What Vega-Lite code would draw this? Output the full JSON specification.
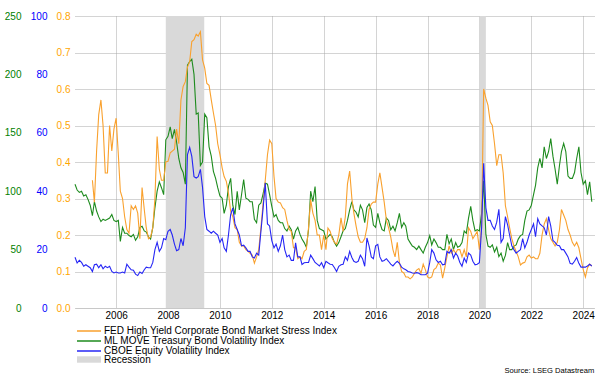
{
  "$schema": "https://vega.github.io/schema/vega-lite/v6.json",
  "width": 519,
  "height": 292,
  "autosize": {"type": "none"},
  "padding": {"left": 75, "top": 16, "right": 15, "bottom": 69},
  "background": "white",
  "config": {
    "font": "Liberation Sans",
    "view": {"stroke": null},
    "axis": {"labelFont": "Liberation Sans", "labelFontSize": 10, "titleFontSize": 10},
    "legend": {"labelFont": "Liberation Sans", "labelFontSize": 10, "labelColor": "#000", "padding": 0, "labelLimit": 500}
  },
  "title": {"text": "Source: LSEG Datastream", "orient": "bottom", "anchor": "end", "fontSize": 7.6, "fontWeight": "normal", "color": "#000", "offset": 2, "font": "Liberation Sans"},
  "datasets": {
    "rec": [
      {"start": "2007-12-01", "end": "2009-05-25", "label": "Recession"},
      {"start": "2020-01-01", "end": "2020-04-01", "label": "Recession"}
    ],
    "series": [
      {"date": "2004-06-01", "move": 106, "vix": 17.4},
      {"date": "2004-07-01", "move": 101, "vix": 15.4},
      {"date": "2004-08-01", "move": 99, "vix": 16.3},
      {"date": "2004-09-01", "move": 100, "vix": 15.6},
      {"date": "2004-10-01", "move": 96, "vix": 14.3},
      {"date": "2004-11-01", "move": 97, "vix": 14.8},
      {"date": "2004-12-01", "move": 93, "vix": 14.3},
      {"date": "2005-01-01", "move": 88, "vix": 13.8},
      {"date": "2005-02-01", "move": 79, "vix": 12.5, "stress": 0.35},
      {"date": "2005-03-01", "move": 91, "vix": 14.8, "stress": 0.29},
      {"date": "2005-04-01", "move": 83, "vix": 15, "stress": 0.43},
      {"date": "2005-05-01", "move": 78, "vix": 13.8, "stress": 0.53},
      {"date": "2005-06-01", "move": 74, "vix": 14.8, "stress": 0.57},
      {"date": "2005-07-01", "move": 76, "vix": 13.4, "stress": 0.5},
      {"date": "2005-08-01", "move": 75, "vix": 14.3, "stress": 0.37},
      {"date": "2005-09-01", "move": 76, "vix": 13.8, "stress": 0.37},
      {"date": "2005-10-01", "move": 77, "vix": 14.3, "stress": 0.5},
      {"date": "2005-11-01", "move": 80, "vix": 12.5, "stress": 0.43},
      {"date": "2005-12-01", "move": 75, "vix": 12, "stress": 0.49},
      {"date": "2006-01-01", "move": 74, "vix": 12.3, "stress": 0.52},
      {"date": "2006-02-01", "move": 75, "vix": 12, "stress": 0.42},
      {"date": "2006-03-01", "move": 57, "vix": 12, "stress": 0.32},
      {"date": "2006-04-01", "move": 69, "vix": 12.3, "stress": 0.3},
      {"date": "2006-05-01", "move": 64, "vix": 12, "stress": 0.25},
      {"date": "2006-06-01", "move": 64, "vix": 15, "stress": 0.215},
      {"date": "2006-07-01", "move": 62, "vix": 14, "stress": 0.205},
      {"date": "2006-08-01", "move": 61, "vix": 13.1, "stress": 0.28},
      {"date": "2006-09-01", "move": 63, "vix": 12.9, "stress": 0.27},
      {"date": "2006-10-01", "move": 58, "vix": 11.6, "stress": 0.28},
      {"date": "2006-11-01", "move": 61, "vix": 11.1, "stress": 0.26},
      {"date": "2006-12-01", "move": 69, "vix": 12.3, "stress": 0.19},
      {"date": "2007-01-01", "move": 70, "vix": 11.8, "stress": 0.33},
      {"date": "2007-02-01", "move": 66, "vix": 13.1, "stress": 0.27},
      {"date": "2007-03-01", "move": 65, "vix": 14, "stress": 0.22},
      {"date": "2007-04-01", "move": 61, "vix": 13.8, "stress": 0.19},
      {"date": "2007-05-01", "move": 59, "vix": 13.8, "stress": 0.195},
      {"date": "2007-06-01", "move": 69, "vix": 15.6, "stress": 0.22},
      {"date": "2007-07-01", "move": 86, "vix": 20, "stress": 0.3},
      {"date": "2007-08-01", "move": 100, "vix": 22.5, "stress": 0.47},
      {"date": "2007-09-01", "move": 108, "vix": 19.4, "stress": 0.38},
      {"date": "2007-10-01", "move": 103, "vix": 20.6, "stress": 0.35},
      {"date": "2007-11-01", "move": 97, "vix": 23.8, "stress": 0.35},
      {"date": "2007-12-01", "move": 144, "vix": 23.4, "stress": 0.4},
      {"date": "2008-01-01", "move": 147, "vix": 26.3, "stress": 0.402},
      {"date": "2008-02-01", "move": 155, "vix": 26.9, "stress": 0.425},
      {"date": "2008-03-01", "move": 145, "vix": 25, "stress": 0.43},
      {"date": "2008-04-01", "move": 153, "vix": 21.9, "stress": 0.435},
      {"date": "2008-05-01", "move": 142, "vix": 19.6, "stress": 0.49},
      {"date": "2008-06-01", "move": 128, "vix": 20, "stress": 0.45},
      {"date": "2008-07-01", "move": 120, "vix": 23.8, "stress": 0.57},
      {"date": "2008-08-01", "move": 116, "vix": 21.3, "stress": 0.607},
      {"date": "2008-09-01", "move": 106, "vix": 27.5, "stress": 0.62},
      {"date": "2008-10-01", "move": 208, "vix": 52.5, "stress": 0.66},
      {"date": "2008-11-01", "move": 211, "vix": 55, "stress": 0.675},
      {"date": "2008-12-01", "move": 213, "vix": 51.9, "stress": 0.73},
      {"date": "2009-01-01", "move": 200, "vix": 45, "stress": 0.735},
      {"date": "2009-02-01", "move": 166, "vix": 44.5, "stress": 0.75},
      {"date": "2009-03-01", "move": 167, "vix": 45, "stress": 0.745},
      {"date": "2009-04-01", "move": 122, "vix": 47.5, "stress": 0.757},
      {"date": "2009-05-01", "move": 125, "vix": 41.3, "stress": 0.68},
      {"date": "2009-06-01", "move": 166, "vix": 31.3, "stress": 0.657},
      {"date": "2009-07-01", "move": 163, "vix": 26.9, "stress": 0.615},
      {"date": "2009-08-01", "move": 138, "vix": 26.3, "stress": 0.61},
      {"date": "2009-09-01", "move": 130, "vix": 25.6, "stress": 0.57},
      {"date": "2009-10-01", "move": 117, "vix": 26.3, "stress": 0.535},
      {"date": "2009-11-01", "move": 111, "vix": 25.6, "stress": 0.5},
      {"date": "2009-12-01", "move": 103, "vix": 25, "stress": 0.45},
      {"date": "2010-01-01", "move": 96, "vix": 22.5, "stress": 0.42},
      {"date": "2010-02-01", "move": 94, "vix": 23.8, "stress": 0.384},
      {"date": "2010-03-01", "move": 81, "vix": 20.6, "stress": 0.36},
      {"date": "2010-04-01", "move": 88, "vix": 19.4, "stress": 0.347},
      {"date": "2010-05-01", "move": 104, "vix": 25, "stress": 0.315},
      {"date": "2010-06-01", "move": 111, "vix": 32, "stress": 0.265},
      {"date": "2010-07-01", "move": 88, "vix": 34.3, "stress": 0.25},
      {"date": "2010-08-01", "move": 80, "vix": 28.8, "stress": 0.22},
      {"date": "2010-09-01", "move": 100, "vix": 26.9, "stress": 0.215},
      {"date": "2010-10-01", "move": 84, "vix": 25, "stress": 0.18},
      {"date": "2010-11-01", "move": 97, "vix": 21.3, "stress": 0.17},
      {"date": "2010-12-01", "move": 110, "vix": 21.5, "stress": 0.17},
      {"date": "2011-01-01", "move": 94, "vix": 20.6, "stress": 0.16},
      {"date": "2011-02-01", "move": 93, "vix": 19.4, "stress": 0.155},
      {"date": "2011-03-01", "move": 91, "vix": 19.4, "stress": 0.15},
      {"date": "2011-04-01", "move": 91, "vix": 17.5, "stress": 0.145},
      {"date": "2011-05-01", "move": 76, "vix": 17.1, "stress": 0.123},
      {"date": "2011-06-01", "move": 73, "vix": 18.8, "stress": 0.14},
      {"date": "2011-07-01", "move": 88, "vix": 18.1, "stress": 0.16},
      {"date": "2011-08-01", "move": 90, "vix": 26.3, "stress": 0.22},
      {"date": "2011-09-01", "move": 98, "vix": 34.3, "stress": 0.288},
      {"date": "2011-10-01", "move": 107, "vix": 42.8, "stress": 0.35},
      {"date": "2011-11-01", "move": 106, "vix": 28.8, "stress": 0.42},
      {"date": "2011-12-01", "move": 97, "vix": 28.1, "stress": 0.46},
      {"date": "2012-01-01", "move": 87, "vix": 23.1, "stress": 0.45},
      {"date": "2012-02-01", "move": 78, "vix": 20.6, "stress": 0.36},
      {"date": "2012-03-01", "move": 80, "vix": 21.9, "stress": 0.3},
      {"date": "2012-04-01", "move": 75, "vix": 19.4, "stress": 0.29},
      {"date": "2012-05-01", "move": 73, "vix": 21.3, "stress": 0.288},
      {"date": "2012-06-01", "move": 73, "vix": 25, "stress": 0.275},
      {"date": "2012-07-01", "move": 68, "vix": 20, "stress": 0.27},
      {"date": "2012-08-01", "move": 66, "vix": 17.5, "stress": 0.24},
      {"date": "2012-09-01", "move": 70, "vix": 18.1, "stress": 0.215},
      {"date": "2012-10-01", "move": 67, "vix": 16.3, "stress": 0.21},
      {"date": "2012-11-01", "move": 59, "vix": 16.3, "stress": 0.165},
      {"date": "2012-12-01", "move": 66, "vix": 22.3, "stress": 0.165},
      {"date": "2013-01-01", "move": 69, "vix": 17.5, "stress": 0.135},
      {"date": "2013-02-01", "move": 63, "vix": 17.5, "stress": 0.14},
      {"date": "2013-03-01", "move": 59, "vix": 14.9, "stress": 0.135},
      {"date": "2013-04-01", "move": 56, "vix": 15.5, "stress": 0.155},
      {"date": "2013-05-01", "move": 52, "vix": 15.6, "stress": 0.16},
      {"date": "2013-06-01", "move": 67, "vix": 15.6, "stress": 0.22},
      {"date": "2013-07-01", "move": 100, "vix": 18.1, "stress": 0.297},
      {"date": "2013-08-01", "move": 91, "vix": 16.9, "stress": 0.26},
      {"date": "2013-09-01", "move": 104, "vix": 15.6, "stress": 0.24},
      {"date": "2013-10-01", "move": 75, "vix": 15, "stress": 0.2},
      {"date": "2013-11-01", "move": 68, "vix": 14.4, "stress": 0.2},
      {"date": "2013-12-01", "move": 67, "vix": 15.5, "stress": 0.16},
      {"date": "2014-01-01", "move": 66, "vix": 13.8, "stress": 0.2},
      {"date": "2014-02-01", "move": 59, "vix": 16, "stress": 0.16},
      {"date": "2014-03-01", "move": 61, "vix": 15.5, "stress": 0.219},
      {"date": "2014-04-01", "move": 63, "vix": 15, "stress": 0.21},
      {"date": "2014-05-01", "move": 61, "vix": 14.9, "stress": 0.19},
      {"date": "2014-06-01", "move": 56, "vix": 13.8, "stress": 0.18},
      {"date": "2014-07-01", "move": 53, "vix": 12.5, "stress": 0.175},
      {"date": "2014-08-01", "move": 56, "vix": 14.3, "stress": 0.2},
      {"date": "2014-09-01", "move": 61, "vix": 14.8, "stress": 0.247},
      {"date": "2014-10-01", "move": 66, "vix": 15, "stress": 0.21},
      {"date": "2014-11-01", "move": 68, "vix": 17.5, "stress": 0.25},
      {"date": "2014-12-01", "move": 75, "vix": 16.3, "stress": 0.34},
      {"date": "2015-01-01", "move": 84, "vix": 19.4, "stress": 0.375},
      {"date": "2015-02-01", "move": 91, "vix": 17.3, "stress": 0.3},
      {"date": "2015-03-01", "move": 84, "vix": 16, "stress": 0.26},
      {"date": "2015-04-01", "move": 82, "vix": 15.6, "stress": 0.225},
      {"date": "2015-05-01", "move": 78, "vix": 16, "stress": 0.195},
      {"date": "2015-06-01", "move": 88, "vix": 18.1, "stress": 0.18},
      {"date": "2015-07-01", "move": 84, "vix": 16.9, "stress": 0.18},
      {"date": "2015-08-01", "move": 73, "vix": 14.3, "stress": 0.19},
      {"date": "2015-09-01", "move": 86, "vix": 24, "stress": 0.22},
      {"date": "2015-10-01", "move": 89, "vix": 21.3, "stress": 0.27},
      {"date": "2015-11-01", "move": 84, "vix": 17.5, "stress": 0.285},
      {"date": "2015-12-01", "move": 71, "vix": 16.9, "stress": 0.29},
      {"date": "2016-01-01", "move": 69, "vix": 21.3, "stress": 0.29},
      {"date": "2016-02-01", "move": 81, "vix": 21.8, "stress": 0.34},
      {"date": "2016-03-01", "move": 73, "vix": 17.5, "stress": 0.37},
      {"date": "2016-04-01", "move": 67, "vix": 16, "stress": 0.33},
      {"date": "2016-05-01", "move": 66, "vix": 16.3, "stress": 0.29},
      {"date": "2016-06-01", "move": 77, "vix": 16.9, "stress": 0.24},
      {"date": "2016-07-01", "move": 75, "vix": 16, "stress": 0.22},
      {"date": "2016-08-01", "move": 67, "vix": 15, "stress": 0.195},
      {"date": "2016-09-01", "move": 70, "vix": 14.4, "stress": 0.16},
      {"date": "2016-10-01", "move": 66, "vix": 15.3, "stress": 0.14},
      {"date": "2016-11-01", "move": 73, "vix": 16, "stress": 0.18},
      {"date": "2016-12-01", "move": 81, "vix": 15.3, "stress": 0.125},
      {"date": "2017-01-01", "move": 69, "vix": 14, "stress": 0.1},
      {"date": "2017-02-01", "move": 73, "vix": 13.4, "stress": 0.096},
      {"date": "2017-03-01", "move": 70, "vix": 13.1, "stress": 0.085},
      {"date": "2017-04-01", "move": 59, "vix": 12.5, "stress": 0.085},
      {"date": "2017-05-01", "move": 56, "vix": 12.3, "stress": 0.08},
      {"date": "2017-06-01", "move": 53, "vix": 12, "stress": 0.085},
      {"date": "2017-07-01", "move": 52, "vix": 11.9, "stress": 0.095},
      {"date": "2017-08-01", "move": 50, "vix": 12.1, "stress": 0.104},
      {"date": "2017-09-01", "move": 53, "vix": 11.9, "stress": 0.108},
      {"date": "2017-10-01", "move": 50, "vix": 11.4, "stress": 0.095},
      {"date": "2017-11-01", "move": 47, "vix": 11.4, "stress": 0.12},
      {"date": "2017-12-01", "move": 52, "vix": 11.4, "stress": 0.105},
      {"date": "2018-01-01", "move": 56, "vix": 11.9, "stress": 0.085},
      {"date": "2018-02-01", "move": 62, "vix": 15.6, "stress": 0.082},
      {"date": "2018-03-01", "move": 54, "vix": 20, "stress": 0.085},
      {"date": "2018-04-01", "move": 59, "vix": 18.8, "stress": 0.105},
      {"date": "2018-05-01", "move": 56, "vix": 16.5, "stress": 0.11},
      {"date": "2018-06-01", "move": 52, "vix": 15.6, "stress": 0.123},
      {"date": "2018-07-01", "move": 52, "vix": 16, "stress": 0.118},
      {"date": "2018-08-01", "move": 50, "vix": 14.8, "stress": 0.082},
      {"date": "2018-09-01", "move": 50, "vix": 15, "stress": 0.11},
      {"date": "2018-10-01", "move": 63, "vix": 19.4, "stress": 0.14},
      {"date": "2018-11-01", "move": 55, "vix": 18.8, "stress": 0.17},
      {"date": "2018-12-01", "move": 59, "vix": 20, "stress": 0.15},
      {"date": "2019-01-01", "move": 50, "vix": 17.1, "stress": 0.16},
      {"date": "2019-02-01", "move": 56, "vix": 18.8, "stress": 0.15},
      {"date": "2019-03-01", "move": 52, "vix": 17.8, "stress": 0.16},
      {"date": "2019-04-01", "move": 53, "vix": 15.6, "stress": 0.16},
      {"date": "2019-05-01", "move": 56, "vix": 14.3, "stress": 0.14},
      {"date": "2019-06-01", "move": 66, "vix": 17.1, "stress": 0.16},
      {"date": "2019-07-01", "move": 64, "vix": 15.6, "stress": 0.14},
      {"date": "2019-08-01", "move": 77, "vix": 18.8, "stress": 0.22},
      {"date": "2019-09-01", "move": 87, "vix": 18.1, "stress": 0.21},
      {"date": "2019-10-01", "move": 75, "vix": 16, "stress": 0.19},
      {"date": "2019-11-01", "move": 66, "vix": 14.8, "stress": 0.2},
      {"date": "2019-12-01", "move": 67, "vix": 15, "stress": 0.21},
      {"date": "2020-01-01", "move": 66, "vix": 15.5, "stress": 0.16},
      {"date": "2020-02-01", "move": 81, "vix": 27.5, "stress": 0.22},
      {"date": "2020-03-01", "move": 109, "vix": 49.6, "stress": 0.6},
      {"date": "2020-04-01", "move": 63, "vix": 34.3, "stress": 0.575},
      {"date": "2020-05-01", "move": 53, "vix": 30, "stress": 0.555},
      {"date": "2020-06-01", "move": 52, "vix": 30, "stress": 0.51},
      {"date": "2020-07-01", "move": 54, "vix": 28.1, "stress": 0.5},
      {"date": "2020-08-01", "move": 48, "vix": 26.9, "stress": 0.45},
      {"date": "2020-09-01", "move": 52, "vix": 29.4, "stress": 0.39},
      {"date": "2020-10-01", "move": 44, "vix": 33.8, "stress": 0.42},
      {"date": "2020-11-01", "move": 47, "vix": 22.5, "stress": 0.42},
      {"date": "2020-12-01", "move": 40, "vix": 23.8, "stress": 0.37},
      {"date": "2021-01-01", "move": 45, "vix": 31.3, "stress": 0.28},
      {"date": "2021-02-01", "move": 56, "vix": 28.5, "stress": 0.25},
      {"date": "2021-03-01", "move": 50, "vix": 25, "stress": 0.22},
      {"date": "2021-04-01", "move": 50, "vix": 21.3, "stress": 0.19},
      {"date": "2021-05-01", "move": 53, "vix": 20, "stress": 0.17},
      {"date": "2021-06-01", "move": 54, "vix": 18.8, "stress": 0.155},
      {"date": "2021-07-01", "move": 59, "vix": 19.4, "stress": 0.14},
      {"date": "2021-08-01", "move": 62, "vix": 20, "stress": 0.118},
      {"date": "2021-09-01", "move": 63, "vix": 23.8, "stress": 0.123},
      {"date": "2021-10-01", "move": 75, "vix": 20.6, "stress": 0.125},
      {"date": "2021-11-01", "move": 83, "vix": 22.5, "stress": 0.14},
      {"date": "2021-12-01", "move": 84, "vix": 25, "stress": 0.145},
      {"date": "2022-01-01", "move": 88, "vix": 26.9, "stress": 0.137},
      {"date": "2022-02-01", "move": 97, "vix": 28.8, "stress": 0.14},
      {"date": "2022-03-01", "move": 105, "vix": 24.4, "stress": 0.135},
      {"date": "2022-04-01", "move": 120, "vix": 30.6, "stress": 0.135},
      {"date": "2022-05-01", "move": 128, "vix": 28.8, "stress": 0.15},
      {"date": "2022-06-01", "move": 120, "vix": 28.1, "stress": 0.2},
      {"date": "2022-07-01", "move": 138, "vix": 27.5, "stress": 0.23},
      {"date": "2022-08-01", "move": 128, "vix": 25, "stress": 0.245},
      {"date": "2022-09-01", "move": 134, "vix": 31.3, "stress": 0.215},
      {"date": "2022-10-01", "move": 145, "vix": 28.1, "stress": 0.19},
      {"date": "2022-11-01", "move": 130, "vix": 23.1, "stress": 0.18},
      {"date": "2022-12-01", "move": 119, "vix": 22.5, "stress": 0.17},
      {"date": "2023-01-01", "move": 106, "vix": 21.5, "stress": 0.18},
      {"date": "2023-02-01", "move": 122, "vix": 21.3, "stress": 0.215},
      {"date": "2023-03-01", "move": 134, "vix": 20, "stress": 0.27},
      {"date": "2023-04-01", "move": 141, "vix": 20, "stress": 0.255},
      {"date": "2023-05-01", "move": 134, "vix": 18.8, "stress": 0.24},
      {"date": "2023-06-01", "move": 113, "vix": 17.5, "stress": 0.215},
      {"date": "2023-07-01", "move": 111, "vix": 15.3, "stress": 0.2},
      {"date": "2023-08-01", "move": 111, "vix": 15, "stress": 0.18},
      {"date": "2023-09-01", "move": 116, "vix": 16, "stress": 0.17},
      {"date": "2023-10-01", "move": 128, "vix": 17.3, "stress": 0.18},
      {"date": "2023-11-01", "move": 138, "vix": 15.3, "stress": 0.165},
      {"date": "2023-12-01", "move": 116, "vix": 14, "stress": 0.135},
      {"date": "2024-01-01", "move": 106, "vix": 14, "stress": 0.105},
      {"date": "2024-02-01", "move": 109, "vix": 14, "stress": 0.085},
      {"date": "2024-03-01", "move": 97, "vix": 14.4, "stress": 0.11},
      {"date": "2024-04-01", "move": 108, "vix": 15, "stress": 0.12},
      {"date": "2024-05-01", "move": 91, "vix": 14.4, "stress": 0.115}
    ]
  },
  "layer": [
    {
      "data": {"name": "rec"},
      "mark": {"type": "rect", "color": "#d9d9d9"},
      "encoding": {
        "x": {
          "field": "start", "type": "temporal",
          "scale": {"type": "utc", "domain": [{"year": 2004, "month": 6, "date": 1, "utc": true}, {"year": 2024, "month": 6, "date": 1, "utc": true}]},
          "axis": {
            "title": null, "format": "%Y", "labelColor": "#000", "labelFontSize": 10,
            "values": [{"year": 2006, "utc": true}, {"year": 2008, "utc": true}, {"year": 2010, "utc": true}, {"year": 2012, "utc": true}, {"year": 2014, "utc": true}, {"year": 2016, "utc": true}, {"year": 2018, "utc": true}, {"year": 2020, "utc": true}, {"year": 2022, "utc": true}, {"year": 2024, "utc": true}],
            "ticks": false, "tickSize": 0, "labelPadding": 2,
            "domainColor": "#c8c8c8", "domainWidth": 1,
            "grid": true, "gridColor": "#a8a8a8", "gridDash": [1, 1], "gridWidth": 1,
            "labelFlush": false
          }
        },
        "x2": {"field": "end"},
        "fill": {
          "field": "label", "type": "nominal",
          "scale": {"domain": ["Recession"], "range": ["#d9d9d9"]},
          "legend": {
            "title": null, "orient": "none", "legendX": 9, "legendY": 338.5,
            "symbolType": "M-3,-0.8H3V0.8H-3Z", "symbolSize": 64, "symbolStrokeWidth": 0,
            "labelOffset": 10, "labelFontSize": 10, "padding": 0, "rowPadding": 0, "labelLimit": 500
          }
        }
      }
    },
    {
      "data": {"name": "series"},
      "mark": {"type": "line", "strokeWidth": 1.1, "interpolate": "linear"},
      "encoding": {
        "x": {"field": "date", "type": "temporal"},
        "y": {
          "field": "move", "type": "quantitative",
          "scale": {"domain": [0, 250], "nice": false},
          "axis": {"orient": "left", "title": null, "offset": 50, "labelPadding": 4, "ticks": false, "tickSize": 0, "domain": false, "grid": false, "values": [0, 50, 100, 150, 200, 250], "labelColor": "#008000", "labelFontSize": 10}
        },
        "stroke": {
          "datum": "ML MOVE Treasury Bond Volatility Index", "type": "nominal",
          "scale": {"domain": ["FED High Yield Corporate Bond Market Stress Index", "ML MOVE Treasury Bond Volatility Index", "CBOE Equity Volatility Index"], "range": ["#F9A12E", "#1E8B1E", "#2626F5"]},
          "legend": {
            "title": null, "orient": "none", "legendX": 9, "legendY": 310,
            "symbolType": "M-3,0H3", "symbolSize": 64, "symbolStrokeWidth": 1.5,
            "labelOffset": 10, "labelFontSize": 10, "padding": 0, "rowPadding": -0.6, "labelLimit": 500
          }
        }
      }
    },
    {
      "data": {"name": "series"},
      "mark": {"type": "line", "strokeWidth": 1.1},
      "encoding": {
        "x": {"field": "date", "type": "temporal"},
        "y": {
          "field": "stress", "type": "quantitative",
          "scale": {"domain": [0, 0.8], "nice": false},
          "axis": {"orient": "left", "title": null, "offset": 0, "labelPadding": 5, "ticks": false, "tickSize": 0, "domain": false, "grid": true, "gridColor": "#a8a8a8", "gridDash": [1, 1], "values": [0, 0.1, 0.2, 0.3, 0.4, 0.5, 0.6, 0.7, 0.8], "format": ".1f", "labelColor": "#FFA500", "labelFontSize": 10}
        },
        "stroke": {"datum": "FED High Yield Corporate Bond Market Stress Index", "type": "nominal"}
      }
    },
    {
      "data": {"name": "series"},
      "mark": {"type": "line", "strokeWidth": 1.1},
      "encoding": {
        "x": {"field": "date", "type": "temporal"},
        "y": {
          "field": "vix", "type": "quantitative",
          "scale": {"domain": [0, 100], "nice": false},
          "axis": {"orient": "left", "title": null, "offset": 24, "labelPadding": 4, "ticks": false, "tickSize": 0, "domain": false, "grid": false, "values": [0, 20, 40, 60, 80, 100], "labelColor": "#0000FF", "labelFontSize": 10}
        },
        "stroke": {"datum": "CBOE Equity Volatility Index", "type": "nominal"}
      }
    }
  ],
  "resolve": {"scale": {"y": "independent"}, "axis": {"y": "independent"}}
}
